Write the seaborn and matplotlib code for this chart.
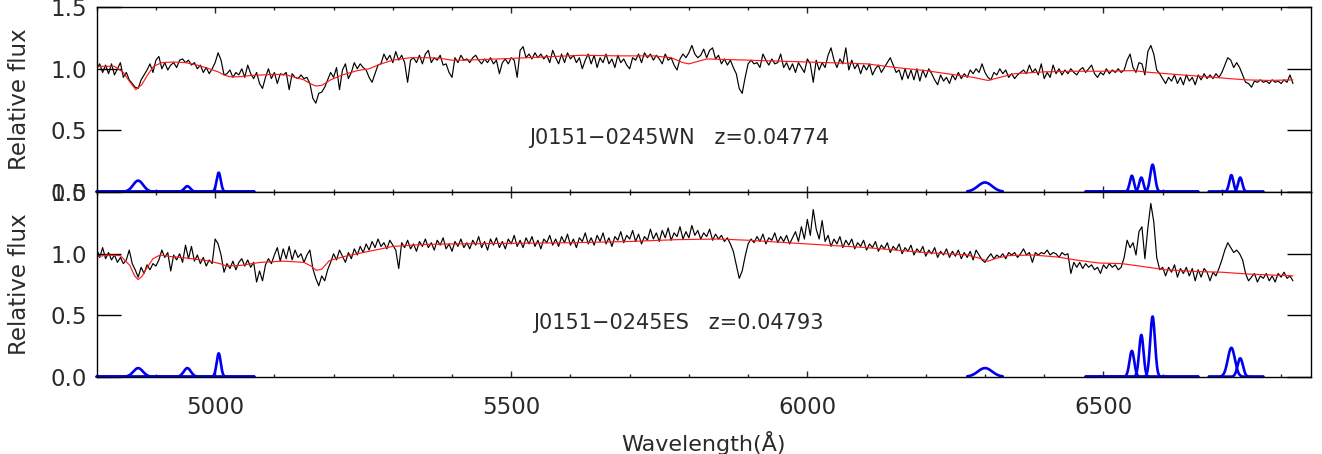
import numpy as np
import pandas as pd
import matplotlib
matplotlib.use("Agg")
import matplotlib.pyplot as plt
from matplotlib.ticker import MultipleLocator, FormatStrFormatter
import seaborn as sns

# ---------------- data ----------------
wave_start = 4800
wave_step = 5

top_flux = [
    1.00,1.04,0.97,1.03,0.96,1.04,0.95,1.00,1.05,0.93,
    0.97,0.91,0.88,0.85,0.84,0.91,0.95,0.99,1.04,0.97,
    1.07,1.10,1.00,1.05,0.99,1.03,1.05,1.01,1.07,1.08,
    1.05,1.07,1.03,1.05,1.00,1.03,0.97,1.01,0.96,1.00,
    1.05,1.13,1.07,0.95,0.96,0.99,0.93,0.97,0.95,1.00,
    0.93,1.03,0.96,0.92,0.97,0.88,0.84,0.93,1.00,0.92,
    0.97,0.88,0.96,0.95,0.97,0.83,0.96,0.93,0.92,
    0.95,0.92,0.93,0.88,0.76,0.72,0.80,0.81,0.85,0.91,
    0.97,0.93,1.01,0.83,0.99,1.04,0.92,0.97,1.05,1.00,
    1.04,1.01,0.99,0.93,0.89,0.96,1.03,1.04,1.12,1.07,
    1.11,1.05,1.14,1.07,1.11,1.05,0.89,1.07,1.09,1.05,
    1.11,1.04,1.12,1.15,1.05,1.09,1.07,1.11,1.03,1.04,
    0.97,0.93,1.09,1.05,1.11,1.07,1.08,1.05,1.09,1.11,
    1.07,1.04,1.08,1.05,1.09,1.04,1.07,0.96,
    1.05,1.08,1.04,1.09,1.07,0.93,1.15,1.18,1.09,1.12,
    1.08,1.13,1.09,1.12,1.08,1.11,1.05,1.15,1.09,1.04,
    1.12,1.05,1.13,1.08,1.11,1.05,1.09,1.00,1.07,1.12,
    1.04,1.11,1.01,1.09,1.05,1.12,1.04,1.08,1.01,1.11,
    1.05,1.08,1.03,1.00,1.09,1.07,1.12,1.05,1.13,1.09,
    1.12,1.07,1.11,1.08,1.04,1.12,1.07,1.09,1.03,0.99,
    1.08,1.12,1.09,1.13,1.19,1.12,1.09,
    1.11,1.16,1.09,1.15,1.17,1.08,1.11,1.04,1.08,1.03,
    1.07,1.01,0.96,0.84,0.80,0.93,1.04,1.07,1.04,1.05,
    1.01,1.12,1.07,1.03,1.08,1.04,1.05,1.12,1.01,1.05,
    0.99,1.04,0.97,1.05,1.01,0.97,1.08,1.04,0.89,1.07,
    0.99,1.05,1.01,1.11,1.17,1.07,1.01,1.08,1.04,1.17,
    0.99,1.07,1.00,1.04,0.96,1.03,0.99,1.04,0.95,1.00,
    1.03,0.97,1.01,1.05,1.09,1.03,0.97,
    0.99,0.91,1.00,0.92,0.99,0.91,1.00,0.90,0.99,0.93,
    1.00,0.96,0.91,0.87,0.95,0.90,0.93,0.88,0.95,0.91,
    0.97,0.92,0.96,0.93,0.99,0.96,1.00,0.97,1.04,0.97,
    0.93,0.91,0.97,0.95,1.00,0.96,0.99,0.93,0.96,0.92,
    0.95,0.97,0.99,0.96,1.03,0.97,1.00,0.95,1.04,0.92,
    0.97,0.93,1.03,0.96,1.00,0.95,0.99,0.96,1.00,0.97,
    0.95,0.99,1.01,0.97,1.00,1.03,0.96,0.93,
    0.97,0.95,1.00,0.96,0.99,0.97,1.00,0.97,0.99,1.07,
    1.12,1.01,0.97,1.05,1.04,0.95,1.14,1.19,1.12,0.99,
    0.96,0.92,0.88,0.93,0.90,0.95,0.88,0.93,0.87,0.95,
    0.90,0.93,0.87,0.95,0.91,0.96,0.92,0.95,0.92,0.96,
    0.93,0.97,1.03,1.09,1.07,1.01,1.05,1.01,0.95,0.89,
    0.88,0.85,0.90,0.89,0.91,0.89,0.90,0.88,0.91,0.89,
    0.90,0.88,0.91,0.89,0.95,0.88,
]

bot_flux = [
    # 4800-5190
    1.04,0.97,1.05,0.96,1.01,0.95,0.99,0.93,0.97,0.92,
    0.95,1.03,0.92,0.87,0.81,0.89,0.84,0.91,0.87,0.92,
    0.90,0.95,1.03,0.97,1.01,0.86,0.99,0.95,1.00,0.93,
    1.07,0.96,1.06,0.94,0.99,0.92,0.97,0.90,0.95,0.92,
    1.12,1.08,0.99,0.85,0.92,0.88,0.94,0.87,0.93,0.96,
    0.90,0.95,0.89,0.93,0.77,0.86,0.78,0.91,0.96,0.92,
    0.99,1.05,0.94,1.04,0.96,1.06,0.95,1.03,0.97,1.00,
    0.93,0.99,1.03,0.88,0.80,0.74,0.82,0.78,0.87,
    # 5195-6320
    0.93,1.00,0.95,1.03,0.98,0.93,1.01,0.96,1.04,0.99,1.06,
    1.01,1.08,1.03,1.10,1.05,1.12,1.06,1.09,1.04,1.11,1.07,
    1.03,0.88,1.09,1.05,1.11,1.04,1.08,1.02,1.10,1.06,1.12,
    1.05,1.09,1.03,1.11,1.07,1.13,1.04,1.08,1.02,1.10,1.06,
    1.12,1.05,1.09,1.04,1.11,1.07,1.14,1.05,1.10,1.03,1.12,
    1.07,1.13,1.05,1.10,1.04,1.12,1.08,1.15,1.06,1.11,1.05,
    1.13,1.08,1.14,1.06,1.11,1.04,1.12,1.09,1.15,1.07,1.12,
    1.06,1.14,1.09,1.16,1.07,1.12,1.05,1.13,1.10,1.17,1.08,
    1.13,1.07,1.15,1.10,1.17,1.08,1.13,1.06,1.14,1.11,1.18,
    1.09,1.15,1.12,1.19,1.10,1.16,1.08,1.14,1.11,1.20,1.12,
    1.17,1.10,1.19,1.13,1.21,1.11,1.17,1.14,1.22,1.12,1.18,
    1.13,1.23,1.15,1.19,1.12,1.17,1.14,1.20,1.11,1.16,1.12,
    1.15,1.10,1.13,1.08,1.02,0.91,0.80,0.86,0.98,1.08,1.12,
    1.09,1.14,1.10,1.16,1.08,1.13,1.11,1.17,1.09,1.14,1.10,
    1.15,1.08,1.13,1.18,1.10,1.22,1.12,1.28,1.15,1.36,1.20,
    1.12,1.27,1.10,1.15,1.06,1.12,1.08,1.14,1.05,1.11,1.07,
    1.12,1.04,1.09,1.06,1.11,1.03,1.08,1.05,1.10,1.02,1.07,
    1.04,1.09,1.01,1.06,1.03,1.08,1.00,1.05,1.02,1.07,0.99,
    1.04,1.01,1.06,0.98,1.03,1.00,1.05,0.97,1.02,0.99,1.04,
    0.97,1.02,0.98,1.03,0.96,1.01,0.97,1.02,0.95,1.03,0.99,
    0.95,0.93,0.97,1.00,0.96,0.99,
    # 6325-6820
    0.97,1.00,0.96,1.01,0.99,1.01,0.97,1.00,1.04,0.99,
    1.01,0.93,1.01,0.99,1.01,1.00,1.03,0.99,1.01,1.00,
    0.97,1.01,0.99,1.00,0.84,0.93,0.89,0.93,0.88,0.92,
    0.89,0.91,0.87,0.89,0.84,0.91,0.88,0.92,0.89,0.91,
    0.87,0.89,0.97,1.11,1.05,1.09,0.99,1.18,1.22,0.96,
    1.21,1.41,1.26,0.97,0.87,0.89,0.82,0.89,0.85,0.91,
    0.81,0.88,0.84,0.89,0.82,0.88,0.78,0.87,0.81,0.88,
    0.85,0.78,0.85,0.82,0.88,0.95,1.03,1.09,1.05,1.01,
    1.03,1.00,0.95,0.84,0.78,0.81,0.84,0.77,0.82,0.80,
    0.84,0.78,0.82,0.77,0.84,0.81,0.85,0.80,0.82,0.78,
]

top_model_wave = [4800,4830,4845,4855,4866,4876,4886,4896,4910,4930,4950,4970,4990,5005,5015,5025,
                  5040,5060,5080,5100,5120,5135,5150,5160,5170,5180,5195,5215,5240,5260,5280,5300,
                  5330,5360,5380,5400,5420,5450,5480,5550,5620,5680,5740,5770,5790,5800,5815,5830,
                  5900,6000,6100,6150,6200,6250,6280,6305,6325,6350,6400,6450,6500,6550,6580,6620,
                  6660,6700,6740,6780,6820]
top_model_flux = [1.02,1.02,0.97,0.90,0.83,0.87,0.95,1.02,1.05,1.055,1.05,1.03,1.00,0.975,0.95,0.935,
                  0.935,0.945,0.95,0.955,0.95,0.93,0.91,0.88,0.86,0.865,0.91,0.95,0.985,1.00,1.04,1.07,
                  1.09,1.09,1.085,1.07,1.07,1.075,1.08,1.095,1.11,1.105,1.105,1.09,1.05,1.04,1.06,1.08,
                  1.07,1.055,1.04,1.01,0.985,0.95,0.93,0.905,0.93,0.96,0.975,0.98,0.98,0.985,0.97,0.955,
                  0.94,0.925,0.91,0.905,0.91]

bot_model_wave = [4800,4817,4840,4856,4864,4870,4877,4884,4895,4907,4920,4952,4985,5008,5020,5042,
                  5076,5115,5150,5162,5171,5180,5193,5220,5260,5300,5350,5400,5500,5600,5700,5780,
                  5850,5900,6000,6100,6200,6270,6290,6305,6320,6340,6380,6420,6440,6460,6492,6531,
                  6576,6604,6660,6700,6745,6820]
bot_model_flux = [0.975,0.99,0.985,0.905,0.82,0.79,0.82,0.88,0.96,0.99,0.98,0.965,0.945,0.92,0.90,0.905,
                  0.93,0.94,0.93,0.90,0.865,0.875,0.945,0.98,1.02,1.06,1.075,1.08,1.085,1.09,1.10,1.115,
                  1.12,1.11,1.08,1.05,1.01,0.99,0.965,0.94,0.965,0.985,0.99,0.975,0.96,0.945,0.925,0.92,
                  0.89,0.87,0.855,0.85,0.835,0.82]

# emission-line fit components
line_center = [4870, 4953, 5006, 6300, 6548, 6564, 6583, 6716, 6731]
line_window = [0, 0, 0, 1, 2, 2, 2, 3, 3]
top_peak  = [0.09, 0.045, 0.155, 0.075, 0.13, 0.115, 0.22, 0.135, 0.115]
top_sigma = [8.5, 5.0, 3.5, 12.0, 3.5, 3.5, 4.0, 3.5, 3.5]
bot_peak  = [0.07, 0.07, 0.19, 0.07, 0.21, 0.34, 0.49, 0.235, 0.15]
bot_sigma = [8.0, 6.0, 3.5, 12.0, 4.0, 3.7, 4.0, 6.0, 4.5]
window_lo = [4800, 6270, 6470, 6678]
window_hi = [5066, 6330, 6660, 6770]

labels = ["J0151\u22120245WN   z=0.04774", "J0151\u22120245ES   z=0.04793"]

# ---------------- build frames ----------------
def spec_frame(flux):
    w = wave_start + wave_step * np.arange(len(flux))
    return pd.DataFrame({"wave": w, "flux": flux})

def comp_frame(peaks, sigmas):
    rows = []
    for i, (c, p, s, win) in enumerate(zip(line_center, peaks, sigmas, line_window)):
        x = np.arange(window_lo[win], window_hi[win] + 0.25, 0.5)
        y = p * np.exp(-0.5 * ((x - c) / s) ** 2)
        rows.append(pd.DataFrame({"wave": x, "flux": y, "comp": i}))
    return pd.concat(rows, ignore_index=True)

panels = [
    (spec_frame(top_flux),
     pd.DataFrame({"wave": top_model_wave, "flux": top_model_flux}),
     comp_frame(top_peak, top_sigma), labels[0]),
    (spec_frame(bot_flux),
     pd.DataFrame({"wave": bot_model_wave, "flux": bot_model_flux}),
     comp_frame(bot_peak, bot_sigma), labels[1]),
]

# ---------------- plot ----------------
sns.set_style("ticks")
plt.rcParams["font.family"] = ["DejaVu Sans"]
plt.rcParams["axes.linewidth"] = 1.0

W, H = 1322, 454
fig = plt.figure(figsize=(W / 100, H / 100), dpi=100)
left = 96.7 / W
width = (1310.7 - 96.7) / W
ph = 185 / H
axes = [fig.add_axes([left, 1 - 191.7 / H, width, ph]),
        fig.add_axes([left, 1 - 376.7 / H, width, ph])]

txt_col = "#2a2a2a"
for k, (ax, (spec, model, comps, lab)) in enumerate(zip(axes, panels)):
    sns.lineplot(data=spec, x="wave", y="flux", ax=ax, color="black", lw=0.85,
                 estimator=None, sort=False)
    sns.lineplot(data=model, x="wave", y="flux", ax=ax, color="#ff1a1a", lw=0.85,
                 estimator=None, sort=False)
    sns.lineplot(data=comps, x="wave", y="flux", units="comp", ax=ax, color="#0000ee",
                 lw=1.9, estimator=None, sort=False, clip_on=False)
    ax.set_xlim(4800, 6850)
    ax.set_ylim(0, 1.505)
    ax.xaxis.set_major_locator(MultipleLocator(500))
    ax.xaxis.set_minor_locator(MultipleLocator(100))
    ax.yaxis.set_major_locator(MultipleLocator(0.5))
    ax.yaxis.set_major_formatter(FormatStrFormatter("%.1f"))
    ax.tick_params(axis="y", which="major", direction="in", length=17, width=1.0,
                   left=True, right=True, labelsize=16.5, pad=7, colors="black",
                   labelcolor=txt_col)
    ax.tick_params(axis="x", which="major", direction="in", length=4, width=1.0,
                   top=True, bottom=True, labelsize=16.5, pad=14, labelcolor=txt_col)
    ax.tick_params(axis="x", which="minor", direction="in", length=2.5, width=1.0,
                   top=True, bottom=True)
    ax.set_ylabel("Relative flux", fontsize=16.5, color=txt_col)
    ax.yaxis.set_label_coords(-0.064, 0.5)
    ax.yaxis.label.set_va("center")
    ax.text(5783, 0.435, lab, fontsize=15, color=txt_col, ha="center", va="center")
    for s in ax.spines.values():
        s.set_color("black")
    if k == 0:
        ax.set_xlabel("")
        ax.tick_params(axis="x", labelbottom=False)
    else:
        ax.set_xlabel("Wavelength(\u00c5)", fontsize=16, color=txt_col)
        ax.xaxis.set_label_coords(0.5, -0.358)
        ax.xaxis.label.set_va("center")

fig.savefig("out.png", dpi=100)
